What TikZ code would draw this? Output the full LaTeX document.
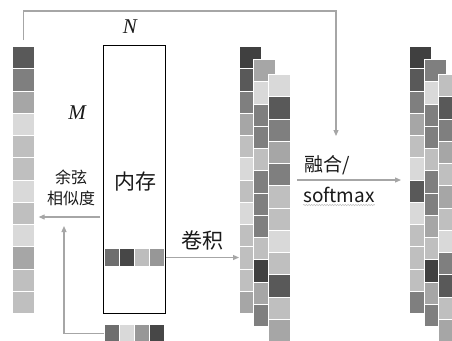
\documentclass[tikz,border=0pt]{standalone}
\usepackage{fontspec}
\newfontfamily\cjk{Noto Sans CJK SC}
\newfontfamily\varfont{Liberation Serif}
\usetikzlibrary{arrows.meta,decorations.pathmorphing}
\definecolor{ga}{HTML}{404040}
\definecolor{gb}{HTML}{595959}
\definecolor{gc}{HTML}{7F7F7F}
\definecolor{gd}{HTML}{A6A6A6}
\definecolor{ge}{HTML}{BFBFBF}
\definecolor{gf}{HTML}{D9D9D9}
\definecolor{mA}{HTML}{6E6E6E}
\definecolor{mB}{HTML}{474747}
\definecolor{mC}{HTML}{BDBDBD}
\definecolor{mD}{HTML}{979797}
\definecolor{lineg}{HTML}{A6A6A6}
\definecolor{txt}{HTML}{1A1A1A}
\tikzset{
  cell/.style={draw=white, line width=1.2pt, inner sep=0pt, minimum width=22pt, minimum height=22.25pt, anchor=north west},
  mcell/.style={draw=white, line width=1pt, inner sep=0pt, minimum width=15pt, minimum height=18pt, anchor=north west},
  garrow/.style={draw=lineg, line width=1.2pt, -{Triangle[length=6pt,width=5pt]}},
  lbl/.style={text=txt, inner sep=0pt},
  varlbl/.style={text=txt, inner sep=0pt, font=\varfont\itshape\fontsize{21}{21}\selectfont},
}
\newcommand\cellstack[4]{%
  \foreach \col [count=\i] in {#4} {
    \node[cell, fill=\col] (#1\i) at (#2, {#3+(\i-1)*22.25}) {};
  }}
\begin{document}
\begin{tikzpicture}[x=1pt, y=-1pt]
\useasboundingbox (0,0) rectangle (452,340);
\fill[white] (0,0) rectangle (452,340);
\clip (0,0) rectangle (452,340);

% stacks
\cellstack{L}{11.5}{46}{gb,gc,gd,gf,ge,ge,gf,ge,gf,gd,ge,ge}
\cellstack{A}{239}{46}{ga,gb,gc,gd,ge,gf,ge,gf,ge,ge,ge,gd}
\cellstack{B}{253}{59}{gd,gf,gc,gc,ge,gc,gc,gc,ge,ga,gd,gc}
\cellstack{C}{268}{74}{gf,gb,gc,gd,gc,ge,ge,gf,ge,gb,ge,gd}
\cellstack{D}{409}{46}{ga,gb,gc,gd,ge,gf,gb,gf,ge,ge,ge,gc}
\cellstack{E}{424}{59}{gc,gf,gc,gc,ge,gc,gc,gd,ge,ga,gd,gc}
\cellstack{F}{438}{74}{ge,gb,gc,gd,ge,gd,ge,gf,gc,gb,ge,gd}

% memory
\node[draw=black, line width=0.9pt, inner sep=0pt, minimum width=62pt, minimum height=268pt, anchor=north west] (mem) at (103,45) {};
\node[lbl, font=\cjk\fontsize{21}{21}\selectfont] (memlab) at (135,182) {内存};

% memory rows
\node[mcell, fill=mA] (r1) at (104,248) {};
\node[mcell, fill=mB] (r2) at (119,248) {};
\node[mcell, fill=mC] (r3) at (134,248) {};
\node[mcell, fill=mD] (r4) at (149,248) {};
\node[mcell, fill=mA] (q1) at (104,324) {};
\node[mcell, fill=gf] (q2) at (119,324) {};
\node[mcell, fill=mD] (q3) at (134,324) {};
\node[mcell, fill=mB] (q4) at (149,324) {};

% labels
\node[varlbl] (Nlab) at (130,27) {N};
\node[varlbl] (Mlab) at (77,113) {M};
\node[lbl, font=\cjk\fontsize{16}{21}\selectfont, align=center] (coslab) at (71,187.5) {余弦\\相似度};
\node[lbl, font=\cjk\fontsize{21}{21}\selectfont] (convlab) at (202,240) {卷积};
\node[lbl, font=\cjk\fontsize{19}{19}\selectfont, anchor=west] (fuselab) at (304,165) {融合/};
\node[lbl, font=\cjk\fontsize{19}{19}\selectfont, anchor=west] (smlab) at (303,195) {softmax};
\draw[draw=lineg!70, line width=0.5pt, decorate, decoration={snake, amplitude=0.7pt, segment length=2.6pt}] ([yshift=-2pt]smlab.south west) -- ([yshift=-2pt]smlab.south east);

% coordinates
\coordinate (tcorner) at (336,11);
\coordinate (topend) at (336,136);
\coordinate (cosstart) at (100,217);
\coordinate (fbend) at (64,226);
\coordinate (fusestart) at (297,180);
\coordinate (fuseend) at (401,180);

% connectors
\draw[garrow] ([yshift=6pt]L1.north) |- (tcorner) -- (topend);
\draw[garrow] (cosstart) -- ([xshift=4pt]L8.east |- cosstart);
\draw[garrow] (q1.west) -| (fbend);
\draw[garrow] (mem.east |- r4.east) -- (A10.west |- r4.east);
\draw[garrow] (fusestart) -- (fuseend);
\end{tikzpicture}
\end{document}
